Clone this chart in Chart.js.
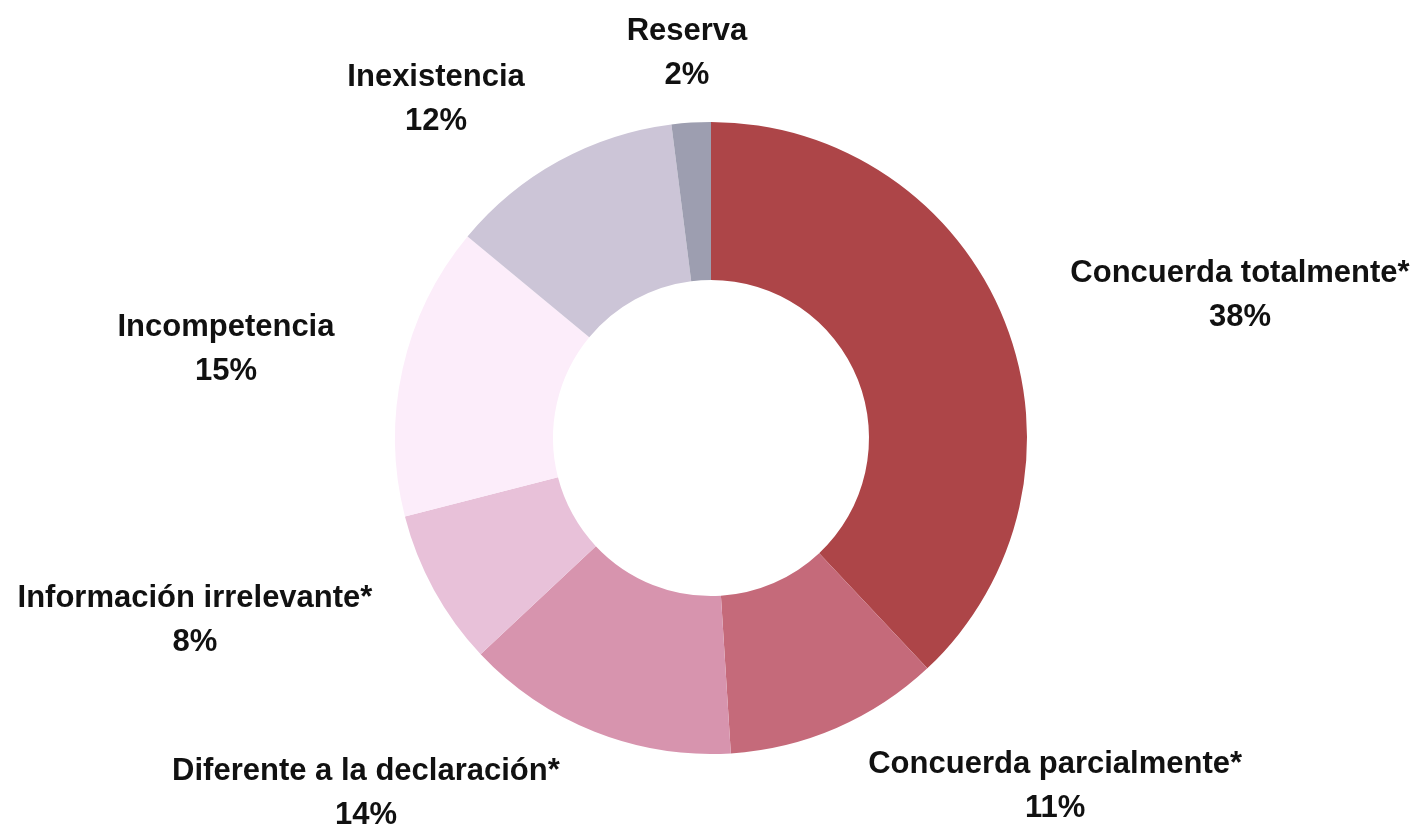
<!DOCTYPE html>
<html>
<head>
<meta charset="utf-8">
<script src="https://cdn.jsdelivr.net/npm/chart.js@4"></script>
<style>
  html, body { margin: 0; padding: 0; background: #ffffff; }
  #wrap { width: 1414px; height: 824px; position: relative; }
</style>
</head>
<body>
<div id="wrap"><canvas id="chart"></canvas></div>
<script>
var categories = ["Concuerda totalmente*", "Concuerda parcialmente*", "Diferente a la declaración*",
    "Información irrelevante*", "Incompetencia", "Inexistencia", "Reserva"];
var values = [38, 11, 14, 8, 15, 12, 2];
var colors = ["#AD4548", "#C56A7A", "#D794AE", "#E8C1D9", "#FCEDFA", "#CCC5D7", "#9D9EB0"];

// where each label block sits, relative to the doughnut centre, in units of outer radius
var labelPlace = [[1.674, -0.453], [1.089, 1.098], [-1.092, 1.123], [-1.633, 0.574],
    [-1.535, -0.282], [-0.870, -1.074], [-0.076, -1.220]];

var outsideLabels = {
    id: "outsideLabels",
    afterDatasetsDraw: function (chart) {
        var ctx = chart.ctx;
        var arc = chart.getDatasetMeta(0).data[0];
        var cx = arc.x, cy = arc.y, r = arc.outerRadius;
        var total = values.reduce(function (a, b) { return a + b; }, 0);
        ctx.save();
        ctx.font = "bold 31px 'Liberation Sans', Arial, sans-serif";
        ctx.fillStyle = "#111111";
        ctx.textAlign = "center";
        ctx.textBaseline = "middle";
        for (var i = 0; i < categories.length; i++) {
            var x = cx + labelPlace[i][0] * r;
            var y = cy + labelPlace[i][1] * r;
            ctx.fillText(categories[i], x, y - 21);
            ctx.fillText(Math.round(values[i] / total * 100) + "%", x, y + 23);
        }
        ctx.restore();
    }
};

var chart = new Chart(document.getElementById("chart"), {
    type: "doughnut",
    data: {
        labels: categories,
        datasets: [{
            data: values,
            backgroundColor: colors,
            borderWidth: 0
        }]
    },
    options: {
        responsive: true,
        maintainAspectRatio: false,
        animation: false,
        cutout: "50%",
        layout: { padding: { top: 122, bottom: 70, left: 395, right: 387 } },
        plugins: {
            legend: { display: false },
            tooltip: { enabled: false }
        }
    },
    plugins: [outsideLabels]
});
</script>
</body>
</html>
